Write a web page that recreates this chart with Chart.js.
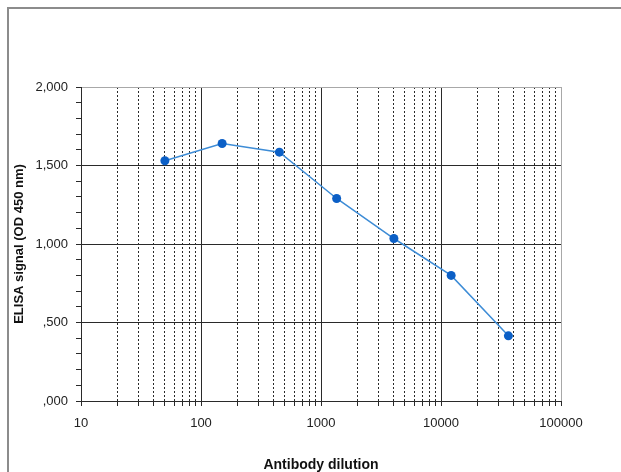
<!DOCTYPE html>
<html>
<head>
<meta charset="utf-8">
<script src="https://cdn.jsdelivr.net/npm/chart.js@4"></script>
<style>
  html, body { margin: 0; padding: 0; background: #fff; overflow: hidden; }
  #frame { position: absolute; left: 7px; top: 7px; width: 700px; height: 600px; border: 2px solid #8c8c8c; }
  #c { position: absolute; left: 0; top: 0; }
</style>
</head>
<body>
<div id="frame"></div>
<canvas id="c" width="621" height="472"></canvas>
<script>
// Data
const dilutions = [50, 150, 450, 1350, 4050, 12150, 36450];
const signal = [1.53, 1.64, 1.585, 1.29, 1.035, 0.80, 0.415];
const xTickValues = [10,20,30,40,50,60,70,80,90,100,200,300,400,500,600,700,800,900,
  1000,2000,3000,4000,5000,6000,7000,8000,9000,10000,20000,30000,40000,50000,60000,70000,80000,90000,100000];
const xTitle = 'Antibody dilution';
const yTitle = 'ELISA signal (OD 450 nm)';

const DARK = '#2a2a2a';
const LIGHT = '#a8a8a8';
const isDecade = v => Math.abs(Math.log10(v) - Math.round(Math.log10(v))) < 1e-9;
const isHalf = v => Math.abs(v * 2 - Math.round(v * 2)) < 1e-6;
const fmtY = v => v.toFixed(3).replace('.', ',').replace(/^0/, '');

new Chart(document.getElementById('c'), {
  type: 'line',
  data: {
    datasets: [{
      data: dilutions.map((x, i) => ({ x: x, y: signal[i] })),
      borderColor: '#3d8cd6',
      borderWidth: 1.5,
      backgroundColor: '#0b5fc6',
      pointBackgroundColor: '#0b5fc6',
      pointBorderWidth: 0,
      pointRadius: 4.5,
      tension: 0,
      fill: false
    }]
  },
  options: {
    responsive: false,
    animation: false,
    layout: { padding: { left: 0, top: 87, right: 60, bottom: 0 } },
    plugins: { legend: { display: false }, tooltip: { enabled: false } },
    scales: {
      x: {
        type: 'logarithmic',
        min: 10,
        max: 100000,
        afterBuildTicks: s => { s.ticks = xTickValues.map(v => ({ value: v })); },
        afterFit: s => { s.height = 71; },
        ticks: {
          autoSkip: false,
          maxRotation: 0,
          padding: 10,
          color: '#222',
          font: { family: 'Liberation Sans', size: 13 },
          callback: v => isDecade(v) ? String(v) : ''
        },
        grid: {
          tickLength: 5,
          tickColor: DARK,
          lineWidth: 1,
          color: ctx => {
            const v = ctx.tick ? ctx.tick.value : 0;
            if (v >= 100000) return LIGHT;
            return DARK;
          }
        },
        border: {
          color: DARK,
          width: 1,
          dash: ctx => {
            if (!ctx.tick) return [];
            return isDecade(ctx.tick.value) ? [] : [2, 2];
          }
        },
        title: {
          display: true,
          text: xTitle,
          color: '#111',
          font: { family: 'Liberation Sans', size: 14, weight: 'bold', lineHeight: 1 },
          padding: { top: 0, bottom: 0 }
        }
      },
      y: {
        min: 0,
        max: 2,
        afterFit: s => { s.width = 81; },
        ticks: {
          stepSize: 0.1,
          autoSkip: false,
          padding: 8,
          color: '#222',
          font: { family: 'Liberation Sans', size: 13 },
          callback: v => isHalf(v) ? fmtY(v) : ''
        },
        grid: {
          tickLength: 5,
          tickColor: DARK,
          lineWidth: 1,
          color: ctx => {
            const v = ctx.tick ? ctx.tick.value : 0;
            if (v >= 2 - 1e-6) return LIGHT;
            return isHalf(v) ? DARK : 'rgba(0,0,0,0)';
          }
        },
        border: { color: DARK, width: 1 },
        title: {
          display: true,
          text: yTitle,
          color: '#111',
          font: { family: 'Liberation Sans', size: 13, weight: 'bold', lineHeight: 1 },
          padding: { top: 13, bottom: 0 }
        }
      }
    }
  }
});
</script>
</body>
</html>
